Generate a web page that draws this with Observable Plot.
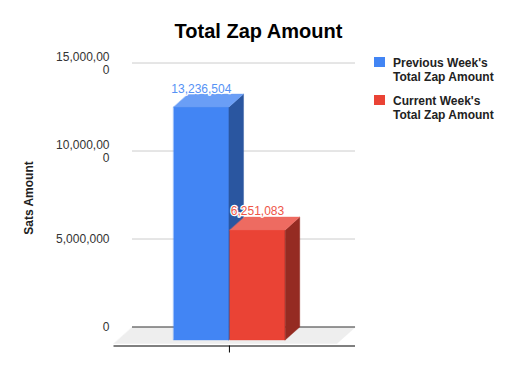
<!DOCTYPE html>
<html><head><meta charset="utf-8">
<script src="https://cdn.jsdelivr.net/npm/d3@7"></script>
<script src="https://cdn.jsdelivr.net/npm/@observablehq/plot@0.6"></script>
<style>
body{margin:0;background:#fff;font-family:"Liberation Sans",Arial,sans-serif;}
#wrap{position:relative;width:517px;height:371px;overflow:hidden;}
#title{position:absolute;left:0;width:517px;top:21px;line-height:20px;text-align:center;font-weight:bold;font-size:20px;color:#000;}
#ytitle{position:absolute;left:29px;top:198px;transform:translate(-50%,-50%) rotate(-90deg);font-weight:bold;font-size:12px;color:#222;white-space:nowrap;}
#legend{position:absolute;left:374px;top:55.7px;font-size:12px;font-weight:bold;color:#222;line-height:14px;}
.item{display:flex;align-items:flex-start;margin-bottom:10px;}
.sw{width:10.5px;height:10.5px;margin-top:1.3px;margin-right:8.5px;flex:none;}
#chart{position:absolute;left:0;top:0;}
</style></head>
<body>
<div id="wrap">
  <div id="chart"></div>
  <div id="title">Total Zap Amount</div>
  <div id="ytitle">Sats Amount</div>
  <div id="legend"></div>
</div>
<script>
// ---- data ----
const categories = ["Previous Week's Total Zap Amount", "Current Week's Total Zap Amount"];
const legendLines = [["Previous Week's", "Total Zap Amount"], ["Current Week's", "Total Zap Amount"]];
const values = [13236504, 6251083];
const valueLabels = ["13,236,504", "6,251,083"];
const frontColors = ["#4285f4", "#ea4335"];
const sideColors = ["#2a56a0", "#952b22"];
const topColors = ["#6a9ef6", "#ee6b61"];
const labelColors = ["#5592f5", "#ee5547"];
const yTicks = [0, 5000000, 10000000, 15000000];
const yTickLabels = ["0", "5,000,000", "10,000,00\n0", "15,000,00\n0"];

// ---- layout ----
const W = 517, H = 371, mL = 113.5, mR = 180.5, mT = 79, mB = 28;
const yMax = 15000000;
const pxX = (W - mL - mR) / 2;        // px per x unit (domain [-1,1])
const pxY = (H - mT - mB) / yMax;     // px per value unit
const DX = 18.5, DY = 16.5;           // 3D depth of the floor, px
const kx = DX / pxX, ky = DY / pxY;   // depth in data units
const z0 = 3.5 / DY;                  // bars' front plane depth
const barW = 0.5, gap = 0.004;
const P = (x, y, z) => ({x: x + z * kx, y: y + z * ky});

const polys = [];
polys.push({fill: "#eeeeee", pts: [P(-1, 0, 0), P(1, 0, 0), P(1, 0, 1), P(-1, 0, 1)]});
const bars = values.map((v, i) => {
  const x1 = -barW + i * barW + (i === 0 ? 0 : gap);
  const x2 = i * barW - (i === 0 ? gap : 0);
  return {i, v, x1, x2};
});
const barPolys = [];
for (const b of bars) {
  const {i, v, x1, x2} = b;
  barPolys.push({fill: frontColors[i], pts: [P(x1, 0, z0), P(x2, 0, z0), P(x2, v, z0), P(x1, v, z0)]});
  barPolys.push({fill: sideColors[i], pts: [P(x2, 0, z0), P(x2, 0, 1), P(x2, v, 1), P(x2, v, z0)]});
  barPolys.push({fill: topColors[i], pts: [P(x1, v, z0), P(x2, v, z0), P(x2, v, 1), P(x1, v, 1)]});
}
const polyMark = p => Plot.line(p.pts, {x: "x", y: "y", fill: p.fill, stroke: p.fill, strokeWidth: 0.4, curve: "linear-closed"});

const chart = Plot.plot({
  width: W, height: H,
  marginLeft: mL, marginRight: mR, marginTop: mT, marginBottom: mB,
  x: {domain: [-1, 1], axis: null},
  y: {domain: [0, yMax], axis: null},
  style: {fontFamily: '"Liberation Sans", Arial, sans-serif', fontSize: "12px", background: "transparent"},
  marks: [
    ...polys.map(polyMark),
    Plot.ruleY(yTicks.filter(v => v > 0), {y: v => v + ky, x1: -1 + kx, x2: 1 + kx, stroke: "#cccccc", strokeWidth: 1}),
    Plot.ruleY([0], {y: v => v + ky, x1: -1 + kx, x2: 1 + kx, stroke: "#333333", strokeWidth: 1}),
    Plot.ruleY([0], {x1: -1, x2: 1 + kx, dy: 2.5, stroke: "#000", strokeWidth: 1}),
    Plot.ruleX([z0 * kx], {y1: 0, y2: -7 / pxY, dy: 2.5, stroke: "#000", strokeWidth: 1}),
    ...barPolys.map(polyMark),
    Plot.text(bars, {
      x: b => (b.x1 + b.x2) / 2 + z0 * kx, y: b => b.v + ky,
      text: b => valueLabels[b.i], fill: b => labelColors[b.i],
      stroke: "white", strokeWidth: 2.5, lineAnchor: "bottom", dy: -1.5, fontSize: 12
    }),
    Plot.text(yTicks, {
      y: v => v + ky, text: (d, i) => yTickLabels[i], frameAnchor: "left",
      textAnchor: "end", dx: -4.5, lineAnchor: "middle", lineHeight: 1.08, fontSize: 12, fill: "#333"
    })
  ]
});
document.getElementById("chart").appendChild(chart);

const legend = document.getElementById("legend");
categories.forEach((c, i) => {
  const it = document.createElement("div");
  it.className = "item";
  it.title = c;
  const sw = document.createElement("div");
  sw.className = "sw";
  sw.style.background = frontColors[i];
  const tx = document.createElement("div");
  tx.innerHTML = legendLines[i].join("<br>");
  it.appendChild(sw); it.appendChild(tx);
  legend.appendChild(it);
});
</script>
</body></html>
